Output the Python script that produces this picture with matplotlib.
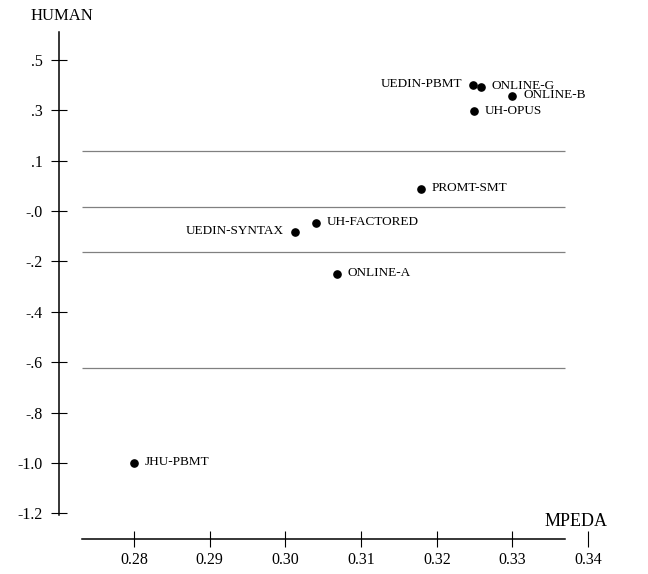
import matplotlib
matplotlib.use('Agg')
import matplotlib.pyplot as plt

# systems, MPEDA score and human score (y in the chart's own axis units)
systems = ['UEDIN-PBMT', 'ONLINE-G', 'ONLINE-B', 'UH-OPUS', 'PROMT-SMT',
           'UEDIN-SYNTAX', 'UH-FACTORED', 'ONLINE-A', 'JHU-PBMT']
mpeda = [0.3248, 0.3258, 0.3300, 0.3249, 0.3179, 0.3013, 0.3040, 0.3068, 0.2800]
human = [0.402, 0.394, 0.358, 0.296, -0.011, -0.182, -0.148, -0.349, -1.100]
left_side = ['UEDIN-PBMT', 'UEDIN-SYNTAX']

# cluster boundaries
bounds = [0.140, -0.0825, -0.264, -0.723]

xticks = [0.28, 0.29, 0.30, 0.31, 0.32, 0.33, 0.34]
xlabels = ['0.28', '0.29', '0.30', '0.31', '0.32', '0.33', '0.34']
yticks = [0.5, 0.3, 0.1, -0.1, -0.3, -0.5, -0.7, -0.9, -1.1, -1.3]
ylabels = ['.5', '.3', '.1', '-.0', '-.2', '-.4', '-.6', '-.8', '-1.0', '-1.2']

plt.rcParams['font.family'] = 'Liberation Serif'

fig = plt.figure(figsize=(6.48, 5.74), dpi=100)
ax = fig.add_axes([0.0910, 0.0610, 0.8657, 0.8868])
ax.set_xlim(0.27009, 0.34420)
ax.set_ylim(-1.402, 0.619)

ax.hlines(bounds, 0.27309, 0.33693, color='0.5', lw=0.9)

ax.plot(mpeda, human, 'o', color='black', ms=5.2, ls='none')
for name, x, y in zip(systems, mpeda, human):
    if name in left_side:
        ax.annotate(name, (x, y), xytext=(-8, 0.5), textcoords='offset points',
                    ha='right', va='center', fontsize=9.5)
    else:
        ax.annotate(name, (x, y), xytext=(8, 0.5), textcoords='offset points',
                    ha='left', va='center', fontsize=9.5)

ax.spines['top'].set_visible(False)
ax.spines['right'].set_visible(False)
ax.spines['left'].set_bounds(-1.307, 0.612)
ax.spines['bottom'].set_bounds(0.27309, 0.33693)
ax.spines['left'].set_linewidth(1.1)
ax.spines['bottom'].set_linewidth(1.1)

ax.set_xticks(xticks)
ax.set_xticklabels(xlabels)
ax.set_yticks(yticks)
ax.set_yticklabels(ylabels)
ax.tick_params(direction='inout', length=11, width=0.8, labelsize=11.5)
ax.tick_params(axis='x', pad=4)
ax.tick_params(axis='y', pad=6)

fig.text(62 / 648, 1 - 16 / 574, 'HUMAN', ha='center', va='center', fontsize=12)
fig.text(545 / 648, 1 - 522 / 574, 'MPEDA', ha='left', va='center', fontsize=13)

fig.savefig('out.png', dpi=100)
